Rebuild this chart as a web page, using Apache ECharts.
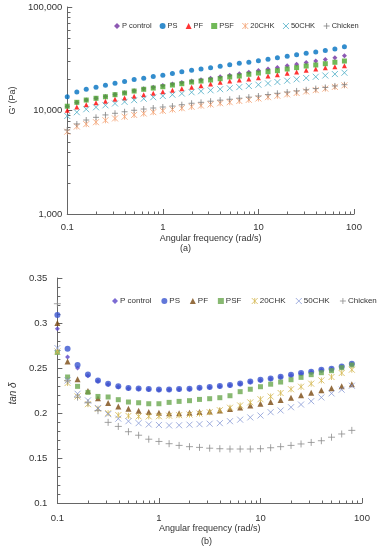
<!DOCTYPE html>
<html><head><meta charset="utf-8">
<script src="https://cdn.jsdelivr.net/npm/echarts@6/dist/echarts.min.js"></script>
<style>html,body{margin:0;padding:0;background:#fff}#c{width:386px;height:550px}</style>
</head><body><div id="c"></div>
<script>
// ---------- data ----------
var freq = [0.1, 0.126, 0.158, 0.2, 0.251, 0.316, 0.398, 0.501, 0.631, 0.794,
            1, 1.26, 1.58, 2, 2.51, 3.16, 3.98, 5.01, 6.31, 7.94,
            10, 12.6, 15.8, 20, 25.1, 31.6, 39.8, 50.1, 63.1, 79.4];
var names = ['P control', 'PS', 'PF', 'PSF', '20CHK', '50CHK', 'Chicken'];

// (a) G' (Pa)
var gP  = [10940, 11940, 12620, 13120, 13650, 14290, 14860, 15520, 16220, 16790, 17420, 18030, 18660, 19280, 19860, 20460, 21180, 21930, 22700, 23440, 24320, 25180, 26060, 27040, 27990, 29040, 30060, 31120, 32360, 33810];
var gPS = [13600, 15100, 16000, 16800, 17500, 18300, 19100, 19900, 20500, 21300, 21900, 22800, 23700, 24500, 25200, 25900, 26700, 27700, 28600, 29300, 30300, 31200, 32400, 33500, 34600, 35800, 36700, 38000, 39300, 41200];
var gPF = [10050, 10810, 11380, 11890, 12270, 12820, 13210, 13710, 14190, 14690, 15210, 15700, 16260, 16790, 17380, 18030, 18710, 19280, 19720, 20140, 20750, 21530, 22180, 22860, 23550, 24430, 25180, 25940, 26490, 27100];
var gPSF = [11000, 12000, 12620, 13120, 13580, 14220, 14760, 15420, 16030, 16480, 16980, 17620, 18160, 18840, 19280, 19720, 20280, 21090, 21530, 22390, 23010, 23710, 24270, 25180, 25940, 26920, 27540, 28310, 29240, 30060];
var g20 = [6240, 7000, 7380, 7710, 8050, 8380, 8710, 9060, 9350, 9640, 9930, 10230, 10520, 10860, 11140, 11430, 11750, 12020, 12360, 12680, 13060, 13460, 13870, 14320, 14760, 15280, 15740, 16260, 16900, 17500];
var g50 = [8850, 9620, 10280, 10740, 11220, 11690, 12130, 12590, 13000, 13430, 13800, 14220, 14590, 15000, 15350, 15670, 16070, 16410, 16830, 17260, 17740, 18280, 18840, 19410, 20000, 20610, 21180, 21780, 22490, 23170];
var gCh = [6490, 7410, 8090, 8590, 9060, 9400, 9720, 10050, 10330, 10570, 10810, 11040, 11380, 11750, 11990, 12300, 12590, 12850, 13150, 13460, 13800, 14260, 14660, 15070, 15450, 15850, 16290, 16710, 17260, 17740];

// (b) tan delta
var tP  = [0.2937, 0.2622, 0.2500, 0.2415, 0.2352, 0.2318, 0.2290, 0.2272, 0.2266, 0.2260, 0.2256, 0.2257, 0.2261, 0.2265, 0.2275, 0.2283, 0.2294, 0.2305, 0.2322, 0.2345, 0.2362, 0.2377, 0.2396, 0.2418, 0.2437, 0.2452, 0.2474, 0.2486, 0.2511, 0.2540];
var tPS = [0.3089, 0.2714, 0.2533, 0.2429, 0.2362, 0.2326, 0.2296, 0.2278, 0.2273, 0.2267, 0.2262, 0.2262, 0.2267, 0.2270, 0.2281, 0.2289, 0.2300, 0.2311, 0.2329, 0.2351, 0.2370, 0.2384, 0.2403, 0.2426, 0.2444, 0.2459, 0.2481, 0.2492, 0.2518, 0.2548];
var tPF = [0.3000, 0.2573, 0.2376, 0.2244, 0.2164, 0.2111, 0.2073, 0.2048, 0.2026, 0.2011, 0.2003, 0.1998, 0.1998, 0.2003, 0.2011, 0.2018, 0.2029, 0.2044, 0.2062, 0.2084, 0.2103, 0.2122, 0.2144, 0.2170, 0.2196, 0.2226, 0.2253, 0.2276, 0.2298, 0.2320];
var tPSF = [0.2673, 0.2400, 0.2296, 0.2229, 0.2184, 0.2178, 0.2148, 0.2122, 0.2114, 0.2103, 0.2103, 0.2118, 0.2129, 0.2137, 0.2151, 0.2159, 0.2170, 0.2192, 0.2237, 0.2264, 0.2292, 0.2320, 0.2344, 0.2370, 0.2396, 0.2426, 0.2448, 0.2470, 0.2503, 0.2533];
var t20 = [0.2684, 0.2333, 0.2184, 0.2098, 0.2048, 0.1998, 0.1976, 0.1968, 0.1962, 0.1962, 0.1964, 0.1970, 0.1976, 0.1983, 0.1994, 0.2009, 0.2031, 0.2059, 0.2084, 0.2118, 0.2153, 0.2183, 0.2222, 0.2264, 0.2292, 0.2326, 0.2362, 0.2400, 0.2444, 0.2481];
var t50 = [0.2722, 0.2362, 0.2214, 0.2140, 0.2056, 0.1987, 0.1937, 0.1909, 0.1887, 0.1873, 0.1867, 0.1862, 0.1864, 0.1870, 0.1876, 0.1881, 0.1887, 0.1909, 0.1926, 0.1951, 0.1972, 0.2009, 0.2028, 0.2064, 0.2094, 0.2131, 0.2173, 0.2218, 0.2259, 0.2303];
var tCh = [0.3214, 0.2359, 0.2176, 0.2114, 0.2026, 0.1896, 0.1851, 0.1792, 0.1753, 0.1709, 0.1684, 0.1659, 0.1640, 0.1626, 0.1618, 0.1609, 0.1603, 0.1600, 0.1600, 0.1600, 0.1603, 0.1614, 0.1626, 0.1640, 0.1656, 0.1673, 0.1692, 0.1731, 0.1767, 0.1807];

// tick positions
var xMinor = [0.2, 0.3, 0.4, 0.5, 0.6, 0.7, 0.8, 0.9, 2, 3, 4, 5, 6, 7, 8, 9, 20, 30, 40, 50, 60, 70, 80, 90];
var yMinorA = [2000, 3000, 4000, 5000, 6000, 7000, 8000, 9000, 20000, 30000, 40000, 50000, 60000, 70000, 80000, 90000];

// ---------- styling ----------
var FONT = 'Liberation Sans';
var AX = '#666666';
var TXT = '#333333';
var STAR = 'path://M0,0L10,10M10,0L0,10M5,0L5,10';
var XMK = 'path://M0,0L10,10M10,0L0,10';
var PLUS = 'path://M0,5L10,5M5,0L5,10';
var symbols = ['diamond', 'circle', 'triangle', 'rect', STAR, XMK, PLUS];
var strokeOnly = [false, false, false, false, true, true, true];
var sizesA = [5, 5, 5, 5, 6, 6, 6];
var sizesB = [5, 6, 6, 5, 6, 6, 7];
var colorsA = ['#7030A0', '#0070C0', '#FF0000', '#4EA72E', '#F4A070', '#4BACC6', '#7F7F7F'];
var colorsB = ['#5B46C8', '#3A55D0', '#7A4A12', '#6AA84F', '#D4B850', '#8A9BD6', '#8C8C8C'];
var dataA = [gP, gPS, gPF, gPSF, g20, g50, gCh];
var dataB = [tP, tPS, tPF, tPSF, t20, t50, tCh];

function pairs(ys) { return freq.map(function (f, i) { return [f, ys[i]]; }); }
function itemStyleFor(i, c) {
  return strokeOnly[i] ? { color: 'rgba(0,0,0,0)', borderColor: c, borderWidth: 1 } : { color: c, borderWidth: 0 };
}

var series = [];
for (var i = 0; i < names.length; i++) {
  series.push({ name: names[i], type: 'scatter', xAxisIndex: 0, yAxisIndex: 0, symbol: symbols[i], symbolSize: sizesA[i],
    itemStyle: itemStyleFor(i, colorsA[i]), data: pairs(dataA[i]), silent: true, z: 4 });
}
for (var j = 0; j < names.length; j++) {
  series.push({ name: names[j], type: 'scatter', xAxisIndex: 1, yAxisIndex: 1, symbol: symbols[j], symbolSize: sizesB[j],
    itemStyle: itemStyleFor(j, colorsB[j]), data: pairs(dataB[j]), silent: true, z: 4 });
}

function tickSeries(gi, data, dir, len) {
  return { type: 'custom', xAxisIndex: gi, yAxisIndex: gi, silent: true, clip: false, z: 3, data: data,
    renderItem: function (params, api) {
      var p = api.coord([api.value(0), api.value(1)]);
      var x = Math.round(p[0]) + 0.5, y = Math.round(p[1]) + 0.5;
      var shape = dir === 'x' ? { x1: x, y1: y, x2: x, y2: y - len } : { x1: x - 0.5, y1: y, x2: x + len, y2: y };
      return { type: 'line', shape: shape, style: { stroke: AX, lineWidth: 1 } };
    } };
}
series.push(tickSeries(0, xMinor.map(function (v) { return [v, 1000]; }), 'x', 3));
series.push(tickSeries(0, yMinorA.map(function (v) { return [0.1, v]; }), 'y', 3));
series.push(tickSeries(1, xMinor.map(function (v) { return [v, 0.1]; }), 'x', 3));

function legendData(colors) {
  return names.map(function (n, i) {
    return { name: n, icon: symbols[i], itemStyle: itemStyleFor(i, colors[i]) };
  });
}
function commaFmt(v) { return String(Math.round(v)).replace(/\B(?=(\d{3})+(?!\d))/g, ','); }
function numFmt(v) { return String(+(+v).toPrecision(3)); }

var axisCommon = {
  axisLine: { show: true, lineStyle: { color: AX, width: 1 } },
  axisTick: { show: true, inside: true, length: 5, lineStyle: { color: AX } },
  splitLine: { show: false },
  nameTextStyle: { fontFamily: FONT, fontSize: 9, color: TXT }
};
function ax(o) { var r = {}; for (var k in axisCommon) r[k] = axisCommon[k]; for (var k2 in o) r[k2] = o[k2]; return r; }

var option = {
  animation: false,
  backgroundColor: '#fff',
  textStyle: { fontFamily: FONT },
  grid: [
    { left: 48, right: 32, top: 7, height: 207 },
    { left: 45, right: 24, top: 278, height: 225 }
  ],
  xAxis: [
    ax({ type: 'log', logBase: 10, min: 0.1, max: 100, gridIndex: 0,
      axisLabel: { formatter: numFmt, fontFamily: FONT, fontSize: 9.5, color: TXT, margin: 8 },
      name: 'Angular frequency (rad/s)', nameLocation: 'middle', nameGap: 20 }),
    ax({ type: 'log', logBase: 10, min: 0.1, max: 100, gridIndex: 1,
      axisLabel: { formatter: numFmt, fontFamily: FONT, fontSize: 9.5, color: TXT, margin: 10 },
      name: 'Angular frequency (rad/s)', nameLocation: 'middle', nameGap: 21 })
  ],
  yAxis: [
    ax({ type: 'log', logBase: 10, min: 1000, max: 100000, gridIndex: 0,
      axisLabel: { formatter: commaFmt, fontFamily: FONT, fontSize: 9.5, color: TXT, margin: 5 },
      name: "G' (Pa)", nameLocation: 'middle', nameGap: 33,
      nameTextStyle: { fontFamily: FONT, fontSize: 9, color: TXT, padding: [0, 0, 0, 20] } }),
    ax({ type: 'value', min: 0.1, max: 0.35, interval: 0.05, gridIndex: 1,
      minorTick: { show: true, splitNumber: 5, length: 3, lineStyle: { color: AX } },
      axisLabel: { formatter: numFmt, fontFamily: FONT, fontSize: 9.5, color: TXT, margin: 10 },
      name: 'tan δ', nameLocation: 'middle', nameGap: 31,
      nameTextStyle: { fontFamily: FONT, fontSize: 10, fontStyle: 'italic', color: TXT, padding: [0, 0, 0, -6] } })
  ],
  legend: [
    { left: 114, top: 22, padding: 0, orient: 'horizontal', itemWidth: 6, itemHeight: 6, itemGap: 8,
      textStyle: { fontFamily: FONT, fontSize: 7.5, color: TXT, padding: [0, 0, 0, -3] },
      data: legendData(colorsA), selectedMode: false },
    { left: 112, top: 297, padding: 0, width: 274, orient: 'horizontal', itemWidth: 6, itemHeight: 6, itemGap: 9.8,
      textStyle: { fontFamily: FONT, fontSize: 8, color: TXT, padding: [0, 0, 0, -3] },
      data: legendData(colorsB), selectedMode: false }
  ],
  graphic: [
    { type: 'text', left: 180, top: 244, style: { text: '(a)', fontFamily: FONT, fontSize: 9, fill: TXT } },
    { type: 'text', left: 201, top: 537, style: { text: '(b)', fontFamily: FONT, fontSize: 9, fill: TXT } }
  ],
  series: series
};
var chart = echarts.init(document.getElementById('c'), null, { renderer: 'canvas' });
chart.setOption(option);
</script></body></html>
